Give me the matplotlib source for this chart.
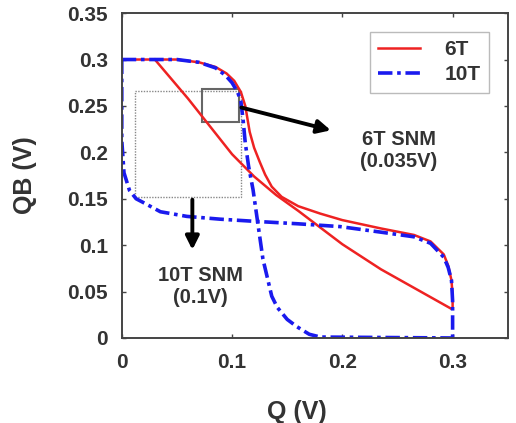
import numpy as np
import matplotlib
matplotlib.use('Agg')
import matplotlib.pyplot as plt
from matplotlib.patches import Rectangle

plt.rcParams['font.family'] = ['Liberation Sans', 'DejaVu Sans']
plt.rcParams['font.weight'] = 'bold'

# 10T butterfly: QB vs Q curve and mirrored curve
t10_a_q = [0.000, 0.050, 0.070, 0.085, 0.094, 0.100, 0.105, 0.108, 0.110, 0.112,
           0.115, 0.119, 0.122, 0.125, 0.128, 0.132, 0.136, 0.141, 0.150, 0.159,
           0.170, 0.180, 0.300]
t10_a_qb = [0.300, 0.300, 0.297, 0.291, 0.283, 0.275, 0.265, 0.255, 0.235, 0.210,
            0.185, 0.160, 0.135, 0.110, 0.085, 0.065, 0.045, 0.033, 0.020, 0.012,
            0.004, 0.001, 0.000]
t10_b_q = [0.000, 0.000, 0.002, 0.007, 0.013, 0.021, 0.035, 0.059, 0.089, 0.116,
           0.160, 0.198, 0.235, 0.265, 0.280, 0.292, 0.296, 0.299, 0.300, 0.300]
t10_b_qb = [0.300, 0.213, 0.178, 0.159, 0.150, 0.145, 0.136, 0.131, 0.128, 0.126,
            0.123, 0.120, 0.114, 0.109, 0.102, 0.087, 0.076, 0.062, 0.040, 0.000]

# 6T butterfly: S-shaped curve and read-disturbed curve
t6_a_q = [0.000, 0.050, 0.070, 0.085, 0.095, 0.102, 0.108, 0.112, 0.116, 0.120,
          0.125, 0.130, 0.136, 0.145, 0.160, 0.180, 0.200, 0.235, 0.265, 0.280,
          0.292, 0.296, 0.299, 0.300, 0.300]
t6_a_qb = [0.300, 0.300, 0.297, 0.292, 0.285, 0.277, 0.265, 0.250, 0.222, 0.205,
           0.190, 0.176, 0.163, 0.152, 0.142, 0.134, 0.127, 0.118, 0.111, 0.104,
           0.090, 0.078, 0.062, 0.045, 0.032]
t6_b_q = [0.030, 0.045, 0.060, 0.080, 0.100, 0.120, 0.140, 0.160, 0.180, 0.200,
          0.235, 0.265, 0.298]
t6_b_qb = [0.300, 0.279, 0.258, 0.228, 0.198, 0.174, 0.154, 0.137, 0.119, 0.101,
           0.074, 0.054, 0.032]

fig = plt.figure(figsize=(5.16, 4.23), dpi=100)
ax = fig.add_axes([0.236, 0.201, 0.748, 0.768])

red = '#ee2222'
blue = '#1a1aee'
txt = '#333333'

l6, = ax.plot(t6_a_q, t6_a_qb, color=red, lw=1.8, label='6T')
ax.plot(t6_b_q, t6_b_qb, color=red, lw=1.8)
l10, = ax.plot(t10_a_q, t10_a_qb, color=blue, lw=2.6, dashes=(4, 1.3, 1, 1.3), label='10T')
ax.plot(t10_b_q, t10_b_qb, color=blue, lw=2.6, dashes=(4, 1.3, 1, 1.3))

# SNM squares
ax.add_patch(Rectangle((0.012, 0.152), 0.096, 0.114, fill=False, ec='#888888',
                       lw=1.0, ls=(0, (1, 1))))
ax.add_patch(Rectangle((0.073, 0.233), 0.033, 0.035, fill=False, ec='#666666', lw=1.5))

ax.annotate('', xy=(0.192, 0.223), xytext=(0.106, 0.249),
            arrowprops=dict(arrowstyle='-|>,head_length=0.8,head_width=0.4',
                            color='black', lw=2.8))
ax.annotate('', xy=(0.064, 0.092), xytext=(0.064, 0.152),
            arrowprops=dict(arrowstyle='-|>,head_length=0.8,head_width=0.4',
                            color='black', lw=2.8))

ax.text(0.251, 0.202, '6T SNM\n(0.035V)', ha='center', va='center', fontsize=14.5,
        fontweight='bold', color=txt, linespacing=1.2)
ax.text(0.071, 0.055, '10T SNM\n(0.1V)', ha='center', va='center', fontsize=14.5,
        fontweight='bold', color=txt, linespacing=1.2)

ax.set_xlim(0, 0.35)
ax.set_ylim(0, 0.35)
ax.set_xticks([0, 0.1, 0.2, 0.3])
ax.set_xticklabels(['0', '0.1', '0.2', '0.3'])
ax.set_yticks([0, 0.05, 0.1, 0.15, 0.2, 0.25, 0.3, 0.35])
ax.set_yticklabels(['0', '0.05', '0.1', '0.15', '0.2', '0.25', '0.3', '0.35'])
ax.tick_params(direction='in', length=3, width=1, top=True, right=True,
               labelsize=15, labelcolor=txt, color='#444444')
ax.tick_params(axis='y', pad=10)
ax.tick_params(axis='x', pad=11)
for s in ax.spines.values():
    s.set_color('#444444')
    s.set_linewidth(1.4)

ax.set_xlabel('Q (V)', fontsize=18, fontweight='bold', color=txt)
ax.set_ylabel('QB (V)', fontsize=18, fontweight='bold', color=txt)
ax.xaxis.set_label_coords(0.453, -0.19)
ax.yaxis.set_label_coords(-0.22, 0.5)

leg = ax.legend(handles=[l6, l10], loc='upper right', fontsize=15, handlelength=2.0,
                borderpad=0.4, labelspacing=0.3, handletextpad=1.2,
                fancybox=False, framealpha=1, borderaxespad=0.9)
leg.get_frame().set_edgecolor('#bbbbbb')
for t in leg.get_texts():
    t.set_color(txt)
    t.set_fontweight('bold')

fig.savefig('out.png', dpi=100)
